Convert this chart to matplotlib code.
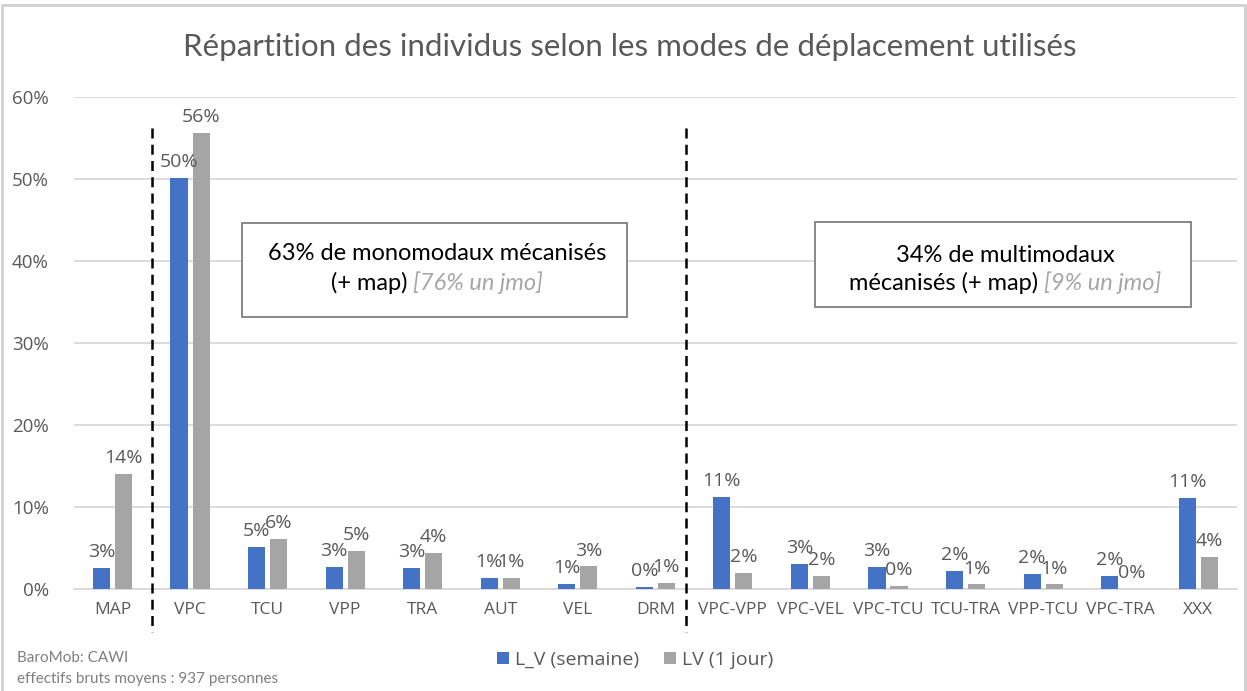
import matplotlib.pyplot as plt
from matplotlib.patches import Rectangle
import numpy as np

# data (percent)
categories = ['MAP', 'VPC', 'TCU', 'VPP', 'TRA', 'AUT', 'VEL', 'DRM',
              'VPC-VPP', 'VPC-VEL', 'VPC-TCU', 'TCU-TRA', 'VPP-TCU', 'VPC-TRA', 'XXX']
semaine = [2.6, 50.1, 5.1, 2.7, 2.55, 1.35, 0.65, 0.2,
           11.2, 3.0, 2.65, 2.2, 1.8, 1.55, 11.1]
un_jour = [14.0, 55.6, 6.1, 4.6, 4.45, 1.35, 2.75, 0.75,
           1.9, 1.55, 0.35, 0.55, 0.55, 0.0, 3.95]
series_names = ['L_V (semaine)', 'LV (1 jour)']
yticks = [0, 10, 20, 30, 40, 50, 60]

W, H = 1247, 691
plt.rcParams['font.family'] = ['Open Sans', 'DejaVu Sans']

fig = plt.figure(figsize=(W / 100, H / 100), dpi=100)
ax = fig.add_axes([73.7 / W, 1 - 589 / H, (1237 - 73.7) / W, (589 - 97) / H])

x = np.arange(len(categories))
bw = 0.22
off = 0.142
b1 = ax.bar(x - off, semaine, bw, color='#4472C4', label=series_names[0], zorder=3)
b2 = ax.bar(x + off, un_jour, bw, color='#A5A5A5', label=series_names[1], zorder=3)

for bars, vals in [(b1, semaine), (b2, un_jour)]:
    for b, v in zip(bars, vals):
        ax.annotate('%.0f%%' % v, (b.get_x() + b.get_width() / 2, v),
                    xytext=(0, 5), textcoords='offset points',
                    ha='center', va='bottom', fontsize=14, color='#595959', zorder=4)

ax.set_xlim(-0.5, len(categories) - 0.5)
ax.set_ylim(0, 60)
ax.set_yticks(yticks)
ax.set_yticklabels(['%d%%' % t for t in yticks])
ax.set_xticks(x)
ax.set_xticklabels(categories)
ax.tick_params(axis='both', length=0, labelcolor='#595959')
ax.tick_params(axis='y', pad=18, labelsize=13.5)
ax.tick_params(axis='x', pad=9, labelsize=12.5)
ax.grid(axis='y', color='#d9d9d9', linewidth=1.3, zorder=0)
for s in ['top', 'right', 'left']:
    ax.spines[s].set_visible(False)
ax.spines['bottom'].set_color('#d9d9d9')
ax.spines['bottom'].set_linewidth(1.3)

# dashed separators
for xs in [0.51, 7.4]:
    ax.plot([xs, xs], [56.2, -5.3], color='black', linestyle=(0, (4, 2.5)),
            linewidth=1.8, clip_on=False, zorder=5)

# title
fig.text(630 / W, 1 - 47 / H, 'Répartition des individus selon les modes de déplacement utilisés',
         ha='center', va='center', fontsize=22.5, color='#595959', family=['Lato', 'DejaVu Sans'])


def fx(px):
    return px / W


def fy(py):
    return 1 - py / H


# annotation boxes
def box(x0, y0, x1, y1, line1, line2a, line2b, y_l1, y_l2, xc):
    fig.add_artist(Rectangle((fx(x0), fy(y1)), fx(x1) - fx(x0), fy(y0) - fy(y1),
                             transform=fig.transFigure, facecolor='white',
                             edgecolor='#7f7f7f', linewidth=1.3, zorder=6))
    fig.text(fx(xc), fy(y_l1), line1, ha='center', va='center', fontsize=17,
             color='black', family=['Lato', 'DejaVu Sans'], zorder=7)
    t_a = fig.text(fx(xc), fy(y_l2), line2a, ha='right', va='center', fontsize=17,
                   color='black', family=['Lato', 'DejaVu Sans'], zorder=7)
    t_b = fig.text(fx(xc), fy(y_l2), line2b, ha='left', va='center', fontsize=17,
                   color='#a6a6a6', style='italic', family=['Lato', 'DejaVu Sans'], zorder=7)
    # centre the two parts of the second line together
    fig.canvas.draw()
    r = fig.canvas.get_renderer()
    wa = t_a.get_window_extent(r).width
    wb = t_b.get_window_extent(r).width
    shift = (wa - wb) / 2
    t_a.set_x(fx(xc + shift))
    t_b.set_x(fx(xc + shift))


box(242, 223, 627, 317, '63% de monomodaux mécanisés', '(+ map) ', '[76% un jmo]', 254, 283, 437)
box(815, 222, 1191, 307, '34% de multimodaux', 'mécanisés (+ map) ', '[9% un jmo]', 255, 283, 1005)

# legend
leg = fig.legend(handles=[b1, b2], loc='center', bbox_to_anchor=(fx(635), fy(660)), ncol=2,
                 frameon=False, fontsize=14, handlelength=0.6, handleheight=0.6,
                 handletextpad=0.3, columnspacing=1.3)
for t in leg.get_texts():
    t.set_color('#595959')

# footer
fig.text(fx(17), fy(658), 'BaroMob: CAWI', ha='left', va='center', fontsize=11, color='#7f7f7f',
         family=['Lato', 'DejaVu Sans'])
fig.text(fx(17), fy(679), 'effectifs bruts moyens : 937 personnes', ha='left', va='center',
         fontsize=11, color='#7f7f7f', family=['Lato', 'DejaVu Sans'])

# outer frame
fig.add_artist(Rectangle((fx(2), fy(700)), fx(1245) - fx(2), fy(5) - fy(700),
                         transform=fig.transFigure, facecolor='none',
                         edgecolor='#d0d0d0', linewidth=2, zorder=0))

fig.savefig('out.png', dpi=100)
